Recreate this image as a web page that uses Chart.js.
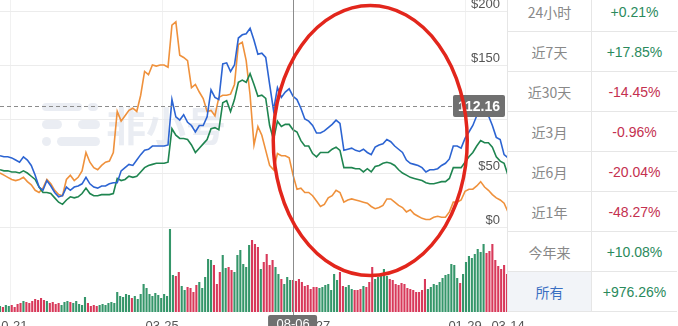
<!DOCTYPE html>
<html lang="zh">
<head>
    <meta charset="UTF-8">
    <title>价格走势</title>
    <script src="https://cdn.jsdelivr.net/npm/chart.js@4.4.1/dist/chart.umd.min.js"></script>
    <style>
        body {
            margin: 0;
            padding: 0;
            background: #fff;
            font-family: "Liberation Sans", Arial, "Noto Sans CJK SC", sans-serif;
        }
        .wrap {
            position: relative;
            width: 678px;
            height: 326px;
            overflow: hidden;
        }
        #priceChart {
            position: absolute;
            left: 0;
            top: 0;
        }
        .changes {
            position: absolute;
            left: 507px;
            top: -8px;
            border-collapse: collapse;
            background: #fff;
        }
        .changes td {
            height: 39px;
            border: 1px solid #e6e6e6;
            text-align: center;
            font-size: 14px;
            padding: 0;
        }
        .changes td.name {
            width: 83px;
            color: #888;
            font-family: "Noto Sans CJK SC", "Liberation Sans", sans-serif;
        }
        .changes td.val {
            width: 85px;
            border-right: none;
        }
        .changes tr:first-child td { border-top: none; }
        .changes td.up { color: #2a8a5c; }
        .changes td.down { color: #c4304f; }
        .changes td.all { color: #3a6fc2; background: #f2f4f8; }
    </style>
</head>
<body>
<div class="wrap">
    <canvas id="priceChart" width="678" height="326"></canvas>
    <table class="changes" id="changeTable"></table>
</div>
<script>
    // day 0 of the x axis, one unit = one day
    const startDate = Date.UTC(2020, 9, 10);
    const tickDays = [11, 166, 321, 476, 520];
    const priceTicks = [0, 50, 100, 150, 200];

    // line samples every 4 days, volume bars every 3 days
    const lineStep = 4;
    const volStep = 3;

    const blueLine = [66,65,65,64,62,60,65,62,57,48, 37,34,43,38,32,28,29,37,34,37,
        38,40,46,40,37,36,38,38,40,41, 41,52,55,58,57,62,67,71,72,75,
        75,75,75,76,118,102,99,104,97,94, 88,94,94,102,127,120,118,151,152,144,
        150,175,178,179,184,173,160,161,157,132, 108,129,120,125,128,121,118,110,100,98,
        94,87,87,89,92,95,99,96,71,72, 73,71,70,72,69,67,74,76,77,81,
        79,75,72,69,62,59,58,57,55,51, 53,53,54,57,59,63,75,75,73,82,
        88,94,103,103,104,103,94,83,81,67, 64];

    const greenLine = [53,52,52,51,51,50,52,50,47,44, 37,32,32,31,27,23,21,25,28,27,
        28,31,36,31,29,29,30,30,30,31, 45,43,44,47,46,47,51,55,57,58,
        59,59,59,60,91,85,82,82,81,76, 69,73,77,81,91,92,90,115,117,107,
        118,134,136,134,142,132,121,122,119,94, 81,98,93,95,95,90,88,80,75,75,
        68,65,69,69,69,72,74,71,55,55, 55,54,54,51,54,51,56,57,59,60,
        59,57,53,50,48,46,45,44,43,41, 40,40,41,42,42,45,55,55,55,60,
        65,69,75,80,78,78,74,65,61,59, 48];

    const orangeLine = [50,48,46,44,43,44,46,42,39,34, 32,36,44,40,34,30,29,44,48,43,
        46,52,69,60,55,53,57,60,61,69, 107,98,103,108,110,107,122,144,141,150,
        149,150,150,148,187,190,159,157,154,129, 132,125,119,107,108,103,120,122,122,123,
        132,169,171,154,122,76,93,85,71,57, 53,68,66,66,64,48,35,36,32,32,
        29,24,19,21,27,29,34,32,23,25, 26,25,24,23,22,19,17,18,20,26,
        26,23,20,18,14,16,12,10,8,7, 7,9,10,9,9,14,23,23,25,33,
        35,35,38,42,37,34,30,27,25,22, 14];

    const volume = [6,5,7,6,7,5,8,9,11,10, 9,11,13,12,14,12,11,9,10,8,
        9,7,10,11,10,9,11,8,7,15, 9,6,7,6,7,8,7,9,10,9,
        20,16,15,18,17,14,16,13,18,28, 24,18,16,19,17,14,18,16,83,37,
        36,40,26,22,25,24,20,27,30,24, 35,53,52,47,28,40,57,44,45,42,
        40,57,62,48,45,67,72,68,65,43, 50,58,47,52,45,38,33,28,35,32,
        32,31,33,30,26,27,23,25,25,24, 25,27,28,22,38,32,40,26,25,27,
        23,22,22,23,26,25,30,45,33,35, 38,43,36,33,32,28,27,29,28,24,
        23,22,20,20,22,33,23,25,28,27, 30,34,37,38,48,47,34,29,38,50,
        56,54,58,63,60,68,59,61,68,52, 46,43,47,38];

    // hover position
    const crossDay = 300;
    const crossPrice = 112.16;

    const periodNames = ['24小时', '近7天', '近30天', '近3月', '近6月', '近1年', '今年来', '所有'];
    const periodChanges = ['+0.21%', '+17.85%', '-14.45%', '-0.96%', '-20.04%', '-48.27%', '+10.08%', '+976.26%'];

    // change table
    const table = document.getElementById('changeTable');
    periodNames.forEach((name, i) => {
        const tr = document.createElement('tr');
        const a = document.createElement('td');
        a.className = 'name' + (i === periodNames.length - 1 ? ' all' : '');
        a.textContent = name;
        const b = document.createElement('td');
        b.className = 'val ' + (periodChanges[i].startsWith('-') ? 'down' : 'up');
        b.textContent = periodChanges[i];
        tr.appendChild(a);
        tr.appendChild(b);
        table.appendChild(tr);
    });

    function fmtDay(d) {
        const dt = new Date(startDate + d * 86400000);
        const mm = String(dt.getUTCMonth() + 1).padStart(2, '0');
        const dd = String(dt.getUTCDate()).padStart(2, '0');
        return mm + '-' + dd;
    }

    const toPoints = arr => arr.map((v, i) => ({ x: i * lineStep, y: v }));

    // bar colour follows the price move of the blue line
    const barColors = volume.map((v, j) => {
        const i = Math.min(blueLine.length - 1, Math.round(j * volStep / lineStep));
        const prev = Math.max(0, i - 1);
        return blueLine[i] >= blueLine[prev] ? '#35966a' : '#d8395a';
    });

    function roundRect(ctx, x, y, w, h, r) {
        ctx.beginPath();
        ctx.moveTo(x + r, y);
        ctx.arcTo(x + w, y, x + w, y + h, r);
        ctx.arcTo(x + w, y + h, x, y + h, r);
        ctx.arcTo(x, y + h, x, y, r);
        ctx.arcTo(x, y, x + w, y, r);
        ctx.closePath();
    }

    const overlay = {
        id: 'overlay',
        beforeDatasetsDraw(chart) {
            // faint logo behind the lines
            const ctx = chart.ctx;
            ctx.save();
            ctx.fillStyle = 'rgba(225,230,238,0.7)';
            roundRect(ctx, 42, 103, 40, 8, 4); ctx.fill();
            roundRect(ctx, 88, 103, 10, 8, 4); ctx.fill();
            roundRect(ctx, 42, 120, 20, 9, 4.5); ctx.fill();
            roundRect(ctx, 78, 120, 22, 9, 4.5); ctx.fill();
            roundRect(ctx, 42, 137, 9, 9, 4.5); ctx.fill();
            roundRect(ctx, 57, 137, 43, 9, 4.5); ctx.fill();
            ctx.font = 'bold 40px "Noto Sans CJK SC"';
            ctx.textBaseline = 'middle';
            ctx.fillText('非小号', 106, 126);
            ctx.restore();
        },
        afterDraw(chart) {
            const { ctx, chartArea, scales } = chart;
            const x = scales.x, y = scales.y;
            const cx = x.getPixelForValue(crossDay);
            const cy = y.getPixelForValue(crossPrice);
            ctx.save();

            // crosshair
            ctx.strokeStyle = '#8c8c8c';
            ctx.lineWidth = 1;
            ctx.beginPath();
            ctx.moveTo(Math.round(cx) + 0.5, chartArea.top);
            ctx.lineTo(Math.round(cx) + 0.5, chartArea.bottom + 4);
            ctx.stroke();
            ctx.setLineDash([4, 3]);
            ctx.beginPath();
            ctx.moveTo(chartArea.left, Math.round(cy) + 0.5);
            ctx.lineTo(chartArea.right - 55, Math.round(cy) + 0.5);
            ctx.stroke();
            ctx.setLineDash([]);

            // price tag
            ctx.fillStyle = '#707070';
            roundRect(ctx, chartArea.right - 55, cy - 11, 52, 22, 2);
            ctx.fill();
            ctx.fillStyle = '#fff';
            ctx.font = 'bold 14px "Liberation Sans", Arial, sans-serif';
            ctx.textAlign = 'center';
            ctx.textBaseline = 'middle';
            ctx.fillText(crossPrice.toFixed(2), chartArea.right - 29, cy + 1);

            // date tag
            ctx.fillStyle = '#707070';
            roundRect(ctx, cx - 25, chartArea.bottom + 3, 49, 20, 2);
            ctx.fill();
            ctx.fillStyle = '#fff';
            ctx.font = '13px "Liberation Sans", Arial, sans-serif';
            ctx.textBaseline = 'top';
            ctx.fillText(fmtDay(crossDay), cx, chartArea.bottom + 6);

            // red ring drawn around the later part of the range
            const ex = x.getPixelForValue(379);
            const ey = y.getPixelForValue(80);
            ctx.strokeStyle = '#e2261c';
            ctx.lineWidth = 3.5;
            ctx.beginPath();
            ctx.ellipse(ex, ey, 97, 135, 0, 0, Math.PI * 2);
            ctx.stroke();
            ctx.restore();
        }
    };

    Chart.defaults.font.family = '"Liberation Sans", Arial, sans-serif';

    new Chart(document.getElementById('priceChart').getContext('2d'), {
        data: {
            datasets: [
                {
                    type: 'line', label: 'blue', data: toPoints(blueLine), yAxisID: 'y',
                    borderColor: '#2c64d2', borderWidth: 1.6, pointRadius: 0, tension: 0
                },
                {
                    type: 'line', label: 'green', data: toPoints(greenLine), yAxisID: 'y',
                    borderColor: '#1f8550', borderWidth: 1.6, pointRadius: 0, tension: 0
                },
                {
                    type: 'line', label: 'orange', data: toPoints(orangeLine), yAxisID: 'y',
                    borderColor: '#ef913c', borderWidth: 1.6, pointRadius: 0, tension: 0
                },
                {
                    type: 'bar', label: 'volume', yAxisID: 'vol',
                    data: volume.map((v, j) => ({ x: j * volStep, y: v })),
                    backgroundColor: barColors,
                    categoryPercentage: 1, barPercentage: 0.72
                }
            ]
        },
        options: {
            responsive: false,
            animation: false,
            devicePixelRatio: 1,
            layout: { padding: { left: 0, right: 170, top: 0, bottom: 0 } },
            plugins: { legend: { display: false }, tooltip: { enabled: false } },
            scales: {
                x: {
                    type: 'linear', min: 0, max: 520,
                    offset: false,
                    grid: { color: '#f1f1f1', drawTicks: false, offset: false },
                    border: { display: false },
                    afterBuildTicks: s => { s.ticks = tickDays.map(v => ({ value: v })); },
                    afterFit: s => { s.height = 14; s.paddingLeft = 0; s.paddingRight = 0; },
                    ticks: {
                        autoSkip: false, maxRotation: 0, padding: 7,
                        color: '#555', font: { size: 13 },
                        callback: v => fmtDay(v)
                    }
                },
                y: {
                    position: 'right',
                    min: -78.7, max: 210.2,
                    grid: { color: '#ececec', drawTicks: false },
                    border: { display: false },
                    afterBuildTicks: s => { s.ticks = priceTicks.map(v => ({ value: v })); },
                    afterFit: s => { s.width = 0; },
                    ticks: {
                        mirror: true, padding: -8, labelOffset: -7,
                        color: '#555', font: { size: 13 },
                        callback: v => '$' + v
                    }
                },
                vol: {
                    position: 'left',
                    display: false,
                    min: 0, max: 312
                }
            }
        },
        plugins: [overlay]
    });
</script>
</body>
</html>
